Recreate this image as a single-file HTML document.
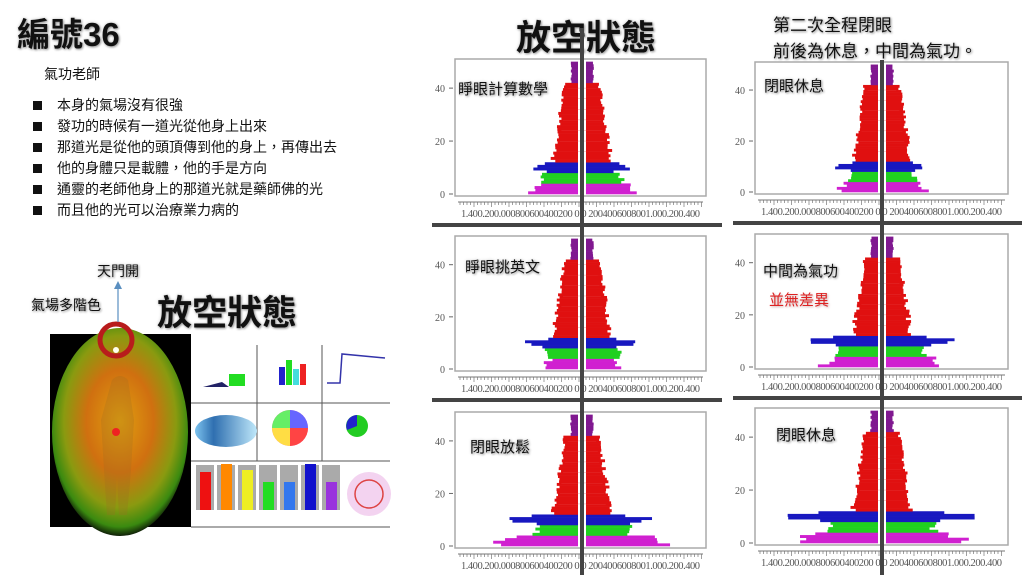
<!DOCTYPE html>
<html><head><meta charset="utf-8"><style>
body{margin:0;width:1030px;height:585px;background:#fff;position:relative;overflow:hidden;font-family:"Liberation Sans","Noto Sans CJK TC",sans-serif;}
.t{position:absolute;white-space:nowrap;color:#111;}
.sh{text-shadow:1px 1px 2px #999,0 0 3px #ccc;}
.b{position:absolute;left:33px;width:9px;height:9px;background:#111;}
</style></head><body>
<div class="t sh" style="left:17px;top:8px;font-size:33px;font-weight:bold;">編號36</div>
<div class="t" style="left:44px;top:64px;font-size:14px;">氣功老師</div>
<div class="b" style="top:101px"></div><div class="t" style="left:57px;top:95px;font-size:14px;">本身的氣場沒有很強</div>
<div class="b" style="top:122px"></div><div class="t" style="left:57px;top:116px;font-size:14px;">發功的時候有一道光從他身上出來</div>
<div class="b" style="top:143px"></div><div class="t" style="left:57px;top:137px;font-size:14px;">那道光是從他的頭頂傳到他的身上，再傳出去</div>
<div class="b" style="top:164px"></div><div class="t" style="left:57px;top:158px;font-size:14px;">他的身體只是載體，他的手是方向</div>
<div class="b" style="top:185px"></div><div class="t" style="left:57px;top:179px;font-size:14px;">通靈的老師他身上的那道光就是藥師佛的光</div>
<div class="b" style="top:206px"></div><div class="t" style="left:57px;top:200px;font-size:14px;">而且他的光可以治療業力病的</div>
<div class="t sh" style="left:97px;top:261px;font-size:14px;">天門開</div>
<div class="t sh" style="left:31px;top:295px;font-size:14px;">氣場多階色</div>
<div class="t sh" style="left:157px;top:285px;font-size:35px;font-weight:bold;">放空狀態</div>
<div class="t sh" style="left:516px;top:10px;font-size:35px;font-weight:bold;">放空狀態</div>
<div class="t sh" style="left:773px;top:11px;font-size:17px;">第二次全程閉眼</div>
<div class="t sh" style="left:773px;top:37px;font-size:17px;">前後為休息，中間為氣功。</div>
<svg width="1030" height="585" style="position:absolute;left:0;top:0" id="s">
<defs>
<radialGradient id="au" cx="50%" cy="45%" r="55%"><stop offset="0" stop-color="#e0a010"/><stop offset="0.45" stop-color="#d07010"/><stop offset="0.75" stop-color="#8a9a10"/><stop offset="0.92" stop-color="#3a8a10"/><stop offset="1" stop-color="#102008"/></radialGradient>
<linearGradient id="ov" x1="0" y1="0" x2="1" y2="0"><stop offset="0" stop-color="#7dc3ee"/><stop offset="0.3" stop-color="#2f6fb0"/><stop offset="1" stop-color="#bfe8fa"/></linearGradient>
</defs>
<rect x="50" y="334" width="141" height="193" fill="#000"/>
<ellipse cx="120" cy="432" rx="68" ry="104" fill="url(#au)"/>
<path d="M112 380 q8-8 16 0 l6 40 l-3 50 l-4 45 l-8 0 l-2-40 l-2 40 l-8 0 l-3-45 l-3-50z" fill="#9a6a20" opacity="0.25"/>
<circle cx="116" cy="350" r="3" fill="#ffe"/><circle cx="116" cy="432" r="4" fill="#e22"/>
<circle cx="116" cy="340" r="16" fill="none" stroke="#b81c1c" stroke-width="5"/>
<line x1="118" y1="322" x2="118" y2="287" stroke="#5a8fc0" stroke-width="1.2"/><polygon points="114,289 118,281 122,289" fill="#5a8fc0"/>
<rect x="191" y="334" width="199" height="193" fill="#fff"/>
<g stroke="#555" stroke-width="1">
<line x1="191" y1="403" x2="390" y2="403"/><line x1="191" y1="461" x2="390" y2="461"/>
<line x1="257" y1="345" x2="257" y2="461"/><line x1="322" y1="345" x2="322" y2="461"/><line x1="191" y1="527" x2="390" y2="527"/></g>
<rect x="229" y="374" width="16" height="12" fill="#2d2"/><polygon points="203,387 222,382 229,387" fill="#226"/>
<rect x="279" y="367" width="6" height="18" fill="#22c"/><rect x="286" y="360" width="6" height="25" fill="#2d2"/><rect x="293" y="369" width="6" height="16" fill="#4dd"/><rect x="300" y="364" width="6" height="21" fill="#e22"/>
<polyline points="327,383 340,383 342,354 385,358" fill="none" stroke="#33a" stroke-width="1.5"/>
<ellipse cx="226" cy="431" rx="31" ry="16" fill="url(#ov)"/>
<circle cx="290" cy="428" r="18" fill="#f6a"/>
<path d="M290 428 L290 410 A18 18 0 0 1 308 428z" fill="#66f"/><path d="M290 428 L308 428 A18 18 0 0 1 290 446z" fill="#f44"/><path d="M290 428 L272 428 A18 18 0 0 1 290 410z" fill="#6e6"/><path d="M290 428 L290 446 A18 18 0 0 1 272 428z" fill="#fd4"/>
<circle cx="357" cy="426" r="11" fill="#2c2"/><path d="M357 426 L357 415 A11 11 0 0 0 347 430z" fill="#22c"/>
<g id="tubes"></g>
<circle cx="369" cy="494" r="22" fill="#f3d3f0"/><circle cx="369" cy="494" r="14" fill="none" stroke="#d44" stroke-width="1.5"/>
<g id="ch"></g>
<g stroke="#444" stroke-width="4">
<line x1="582" y1="28" x2="582" y2="575"/><line x1="882" y1="60" x2="882" y2="575"/>
<line x1="432" y1="225" x2="722" y2="225"/><line x1="733" y1="223" x2="1022" y2="223"/>
<line x1="432" y1="400" x2="722" y2="400"/><line x1="733" y1="398" x2="1022" y2="398"/></g>
</svg>
<div class="t sh" style="left:458px;top:78px;font-size:15px;">睜眼計算數學</div>
<div class="t sh" style="left:764px;top:75px;font-size:15px;">閉眼休息</div>
<div class="t sh" style="left:465px;top:256px;font-size:15px;">睜眼挑英文</div>
<div class="t sh" style="left:763px;top:260px;font-size:15px;">中間為氣功</div>
<div class="t" style="left:769px;top:289px;font-size:15px;color:#d22;text-shadow:1px 1px 2px #caa;">並無差異</div>
<div class="t sh" style="left:470px;top:436px;font-size:15px;">閉眼放鬆</div>
<div class="t sh" style="left:776px;top:424px;font-size:15px;">閉眼休息</div>
<script>
var NS="http://www.w3.org/2000/svg";
function el(p,n,a){var e=document.createElementNS(NS,n);for(var k in a)e.setAttribute(k,a[k]);p.appendChild(e);return e;}
var tb=document.getElementById("tubes");
var tc=["#e11","#f80","#ee2","#2d2","#37e","#11c","#93d"],th=[38,46,40,28,28,46,28];
for(var i=0;i<7;i++){var x=196+i*21;el(tb,"rect",{x:x,y:465,width:18,height:45,fill:"#aaa"});el(tb,"rect",{x:x+4,y:510-th[i],width:11,height:th[i],fill:tc[i]});}
var g=document.getElementById("ch");
var seed=7;function r(){seed=(seed*9301+49297)%233280;return seed/233280;}
var P=[[455,706,59,194,582,1.0,1.0,1.0],[755,1008,62,192,882,0.9,0.8,0.8],
[455,706,236,369,582,1.1,0.9,0.7],[755,1008,234,367,882,1.5,1.1,1.1],
[455,706,412,546,582,1.4,1.2,1.7],[755,1008,408,543,882,1.9,1.3,1.6]];
P.forEach(function(p){
 var L=p[0],R=p[1],T=p[2],Y0=p[3],C=p[4],u=(Y0-T)/51;
 el(g,"rect",{x:L,y:T,width:R-L,height:Y0-T+2,fill:"none",stroke:"#aaa","stroke-width":1.5});
 [0,20,40].forEach(function(v){var y=Y0-v*u;el(g,"line",{x1:L-6,y1:y,x2:L-2,y2:y,stroke:"#666"});var t=el(g,"text",{x:L-10,y:y+4,"font-size":10,"text-anchor":"end",fill:"#555","font-family":"Liberation Serif"});t.textContent=v;});
 el(g,"line",{x1:L+3,y1:Y0+8,x2:R-3,y2:Y0+8,stroke:"#777"});
 for(var x=L+5;x<R-3;x+=3.5){el(g,"line",{x1:x,y1:Y0+8,x2:x,y2:Y0+(Math.round((x-L)/3.5)%5==0?13:11),stroke:"#777","stroke-width":0.7});}
 var t=el(g,"text",{x:(L+R)/2,y:Y0+23,"font-size":10.5,"text-anchor":"middle",fill:"#555","font-family":"Liberation Serif",textLength:R-L-12});t.textContent="1.400.200.000800600400200  0 0  2004006008001.000.200.400";
 for(var k=0;k<50;k++){
  var col,w;
  if(k<4){col="#d020d0";w=(50-k*3)*p[7];}
  else if(k<8){col="#20d020";w=36*p[6];}
  else if(k<12){col="#1818c0";w=(k==10||k==9?44:30)*p[5];}
  else if(k<42){col="#e01010";w=25-(k-12)*0.4;}
  else {col="#801890";w=7;}
  var y=Y0-(k+1)*u;
  var wl=w*(0.88+0.24*r()),wr=w*(0.88+0.24*r());
  el(g,"rect",{x:C-4-wl,y:y,width:wl,height:u+0.3,fill:col});
  el(g,"rect",{x:C+4,y:y,width:wr,height:u+0.3,fill:col});
  if(k%4==3&&k>12&&k<42){el(g,"line",{x1:C-w,y1:y,x2:C+w,y2:y,stroke:"#f8a0a0","stroke-width":0.5});}
 }
});
</script>
</body></html>
